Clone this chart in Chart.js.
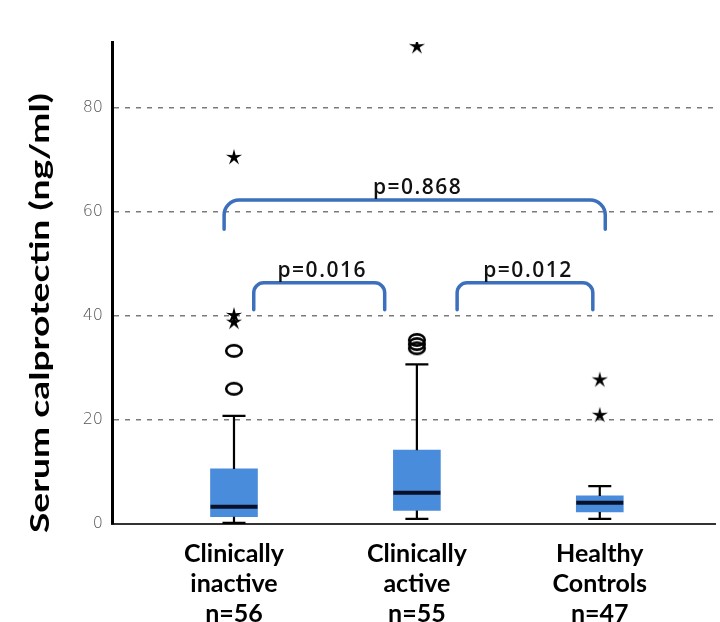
<!DOCTYPE html>
<html>
<head>
<meta charset="utf-8">
<script src="https://cdn.jsdelivr.net/npm/chart.js@4/dist/chart.umd.min.js"></script>
<style>
  html, body { margin: 0; padding: 0; background: #fff; }
  #wrap { width: 720px; height: 622px; position: relative; }
</style>
</head>
<body>
<div id="wrap"><canvas id="box-chart"></canvas></div>
<script>
// categories (x positions 1..3) and their multi-line labels
const groupPos = [1, 2, 3];
const groupLabels = [
  ['Clinically', 'inactive', 'n=56'],
  ['Clinically', 'active', 'n=55'],
  ['Healthy', 'Controls', 'n=47']
];

// box plot summary
const whiskerLow  = [0.2, 1.0, 1.0];
const q1          = [1.4, 2.6, 2.3];
const median      = [3.3, 6.0, 4.1];
const q3          = [10.6, 14.2, 5.4];
const whiskerHigh = [20.8, 30.7, 7.3];

// outliers: circles = mild, stars = extreme
const circleOutliers = [[33.3, 26.0], [35.4, 34.6, 33.8], []];
const starOutliers   = [[70.6, 40.2, 38.9], [91.9], [27.8, 21.0]];

// significance brackets
const bracketLabels = ['p=0.868', 'p=0.016', 'p=0.012'];
const bracketFrom   = [0.946, 1.108, 2.22];
const bracketTo     = [3.03, 1.824, 2.962];
const bracketTop    = [62.3, 46.4, 46.4];
const bracketFoot   = [56.7, 41.2, 41.2];

const yTicks = [0, 20, 40, 60, 80];
const yTitle = 'Serum calprotectin (ng/ml)';

function ellipseIcon() {
  const c = document.createElement('canvas');
  c.width = 22; c.height = 18;
  const g = c.getContext('2d');
  g.lineWidth = 2.6;
  g.strokeStyle = '#000';
  g.beginPath();
  g.ellipse(11, 9, 7.8, 5.6, 0, 0, Math.PI * 2);
  g.stroke();
  return c;
}

function starIcon() {
  const c = document.createElement('canvas');
  c.width = 20; c.height = 20;
  const g = c.getContext('2d');
  g.fillStyle = '#000';
  g.beginPath();
  for (let k = 0; k < 10; k++) {
    const r = k % 2 === 0 ? 8.5 : 2.8;
    const a = -Math.PI / 2 + k * Math.PI / 5;
    const px = 10 + r * Math.cos(a), py = 10.5 + r * Math.sin(a);
    k === 0 ? g.moveTo(px, py) : g.lineTo(px, py);
  }
  g.closePath();
  g.fill();
  return c;
}

const flat = (lists) => lists.flatMap((vals, i) => vals.map(v => ({ x: groupPos[i], y: v })));

const boxExtras = {
  id: 'boxExtras',
  afterDatasetsDraw(chart) {
    const { ctx, scales: { x, y } } = chart;
    const boxes = chart.getDatasetMeta(0).data;
    ctx.save();
    // whiskers and caps
    ctx.strokeStyle = '#000';
    ctx.lineWidth = 2.2;
    groupPos.forEach((g, i) => {
      const px = x.getPixelForValue(g);
      const capHalf = 11.5;
      [[q3[i], whiskerHigh[i]], [q1[i], whiskerLow[i]]].forEach(([from, to]) => {
        ctx.beginPath();
        ctx.moveTo(px, y.getPixelForValue(from));
        ctx.lineTo(px, y.getPixelForValue(to));
        ctx.moveTo(px - capHalf, y.getPixelForValue(to));
        ctx.lineTo(px + capHalf, y.getPixelForValue(to));
        ctx.stroke();
      });
    });
    // medians
    ctx.strokeStyle = '#08102a';
    ctx.lineWidth = 4;
    boxes.forEach((el, i) => {
      const py = y.getPixelForValue(median[i]);
      ctx.beginPath();
      ctx.moveTo(el.x - el.width / 2, py);
      ctx.lineTo(el.x + el.width / 2, py);
      ctx.stroke();
    });
    // brackets
    bracketLabels.forEach((label, i) => {
      const x0 = x.getPixelForValue(bracketFrom[i]);
      const x1 = x.getPixelForValue(bracketTo[i]);
      const yt = y.getPixelForValue(bracketTop[i]);
      const yf = y.getPixelForValue(bracketFoot[i]);
      const r = i === 0 ? 15 : 10;
      ctx.strokeStyle = '#3c6fbc';
      ctx.lineWidth = 3.5;
      ctx.lineCap = 'round';
      ctx.beginPath();
      ctx.moveTo(x0, yf);
      ctx.arcTo(x0, yt, x0 + r, yt, r);
      ctx.arcTo(x1, yt, x1, yt + r, r);
      ctx.lineTo(x1, yf);
      ctx.stroke();
      ctx.fillStyle = '#111';
      ctx.font = '600 21px "Open Sans"';
      ctx.letterSpacing = '1.5px';
      ctx.textAlign = 'center';
      ctx.textBaseline = 'alphabetic';
      ctx.fillText(label, (x0 + x1) / 2 + 3, yt - 6);
    });
    ctx.restore();
  },
  afterDraw(chart) {
    const ctx = chart.ctx;
    ctx.save();
    ctx.translate(41, 313);
    ctx.rotate(-Math.PI / 2);
    ctx.font = 'bold 26px Lato';
    const w = ctx.measureText(yTitle).width;
    ctx.scale(440 / w, 1);
    ctx.fillStyle = '#000';
    ctx.textAlign = 'center';
    ctx.textBaseline = 'middle';
    ctx.fillText(yTitle, 0, 0);
    ctx.restore();
  }
};

new Chart(document.getElementById('box-chart'), {
  type: 'bar',
  data: {
    datasets: [
      {
        type: 'bar',
        data: groupPos.map((g, i) => ({ x: g, y: [q1[i], q3[i]] })),
        backgroundColor: '#4a8cdc',
        borderWidth: 0,
        barThickness: 47,
        grouped: false,
        order: 2
      },
      {
        type: 'scatter',
        data: flat(circleOutliers),
        pointStyle: ellipseIcon(),
        order: 1
      },
      {
        type: 'scatter',
        data: flat(starOutliers),
        pointStyle: starIcon(),
        order: 1
      }
    ]
  },
  options: {
    responsive: true,
    maintainAspectRatio: false,
    animation: false,
    layout: { padding: { top: 42, right: 0, left: 0, bottom: 0 } },
    plugins: { legend: { display: false }, tooltip: { enabled: false } },
    scales: {
      x: {
        type: 'linear',
        offset: false,
        min: 0.333,
        max: 3.63,
        afterBuildTicks: s => { s.ticks = groupPos.map(v => ({ value: v })); },
        afterFit: s => { s.height = 98; },
        ticks: {
          callback: (v, i) => groupLabels[i],
          font: { family: 'Lato', size: 25, weight: 'bold', lineHeight: 1.2 },
          color: '#000',
          padding: 7,
          maxRotation: 0,
          autoSkip: false
        },
        grid: { display: false, offset: false },
        border: { color: '#333', width: 2 }
      },
      y: {
        min: 0,
        max: 92.7,
        afterBuildTicks: s => { s.ticks = yTicks.map(v => ({ value: v })); },
        afterFit: s => { s.width = 112; },
        ticks: {
          font: { family: 'DejaVu Sans', size: 16, weight: 300 },
          color: '#555',
          padding: 9
        },
        grid: {
          color: c => (c.tick && c.tick.value === 0) ? 'rgba(0,0,0,0)' : '#7a7a7a',
          lineWidth: 1.5,
          drawTicks: false
        },
        border: { color: '#000', width: 3, dash: [5, 6] }
      }
    }
  },
  plugins: [boxExtras]
});
</script>
</body>
</html>
